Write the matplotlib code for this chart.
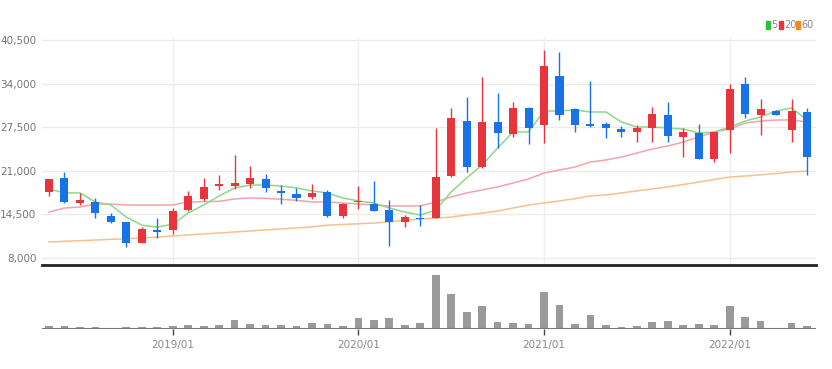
import matplotlib
matplotlib.use("Agg")
import matplotlib.pyplot as plt
from matplotlib.patches import Rectangle
import numpy as np

plt.rcParams['font.family'] = ['DejaVu Sans']

# ---- data (monthly, 2018/05 .. 2022/06) ----
months = [f"{2018 + (4 + i) // 12}/{(4 + i) % 12 + 1:02d}" for i in range(50)]
opens = [17850, 19925, 16200, 16400, 14250, 13350, 10250, 12150, 12150, 15150,
         16800, 18750, 18800, 19050, 19775, 17950, 17550, 17100, 17850, 14250,
         16350, 16050, 15150, 13350, 13950, 13950, 20200, 28420, 21560, 28270,
         26480, 30360, 27830, 35130, 30210, 27980, 27980, 27230, 26780, 27380,
         29320, 26040, 26630, 22760, 27080, 33940, 29320, 29920, 27080, 29770]
highs = [19800, 20820, 17700, 16950, 14700, 13400, 12600, 13950, 15450, 18000,
         19900, 20400, 23350, 21700, 20520, 18880, 18450, 19030, 18150, 16200,
         18750, 19480, 16650, 14400, 15900, 27380, 30360, 32000, 34980, 32600,
         31260, 30500, 39010, 38710, 30360, 34390, 28270, 27680, 27830, 30510,
         31260, 27380, 27980, 26780, 33940, 34980, 31710, 30000, 31710, 30360]
lows = [17300, 16200, 15900, 13950, 13200, 9650, 10250, 10950, 11550, 15000,
        16500, 18150, 18300, 18400, 17850, 16050, 16500, 16800, 14100, 13950,
        15300, 15000, 9800, 12600, 12750, 13950, 20070, 20820, 21400, 24400,
        26040, 25000, 25140, 28570, 26780, 27530, 25880, 26040, 25290, 25290,
        25290, 23050, 22760, 22310, 23650, 28870, 26330, 29320, 25290, 20370]
closes = [19775, 16350, 16650, 14700, 13350, 10250, 12300, 11850, 15000, 17250,
          18600, 19050, 19200, 19925, 18450, 17700, 16950, 17700, 14250, 16050,
          16500, 15000, 13350, 14100, 13800, 20070, 28870, 21560, 28270, 26630,
          30360, 27380, 36620, 29320, 27830, 27680, 27380, 26780, 27380, 29470,
          26190, 26780, 22760, 26780, 33190, 29470, 30210, 29320, 29920, 23050]
ma5 = [18300, 17700, 17700, 16350, 15900, 14100, 12900, 12600, 13050, 14700,
       15900, 17250, 18450, 18880, 18880, 18730, 18450, 18000, 17700, 16950,
       16500, 16200, 15450, 14850, 14400, 15150, 17850, 19930, 21860, 24400,
       26780, 26780, 29920, 29920, 30060, 29770, 29770, 28270, 27530, 27530,
       27380, 27230, 26630, 26780, 27530, 28420, 29020, 29920, 30360, 28570]
ma20 = [14850, 15450, 15600, 16050, 16050, 15900, 15900, 15900, 15900, 16350,
        16400, 16450, 16800, 16950, 16900, 16750, 16600, 16350, 16350, 16200,
        16050, 15900, 15750, 15750, 15750, 16350, 17100, 17700, 18150, 18600,
        19180, 19775, 20670, 21120, 21560, 22310, 22610, 23050, 23650, 24250,
        24700, 25290, 26040, 26780, 27230, 28120, 28420, 28570, 28570, 28270]
ma60 = [10380, 10480, 10580, 10680, 10780, 10880, 10980, 11130, 11280, 11430,
        11580, 11730, 11880, 12030, 12180, 12330, 12480, 12630, 12900, 13000,
        13100, 13210, 13400, 13600, 13810, 13950, 14100, 14400, 14700, 15000,
        15450, 15900, 16200, 16500, 16850, 17250, 17400, 17700, 18000, 18300,
        18600, 18950, 19330, 19700, 20070, 20220, 20400, 20600, 20820, 20970]
volume = [27, 27, 23, 23, 10, 23, 20, 20, 27, 43,
          27, 40, 93, 47, 40, 40, 27, 57, 47, 27,
          107, 87, 107, 40, 60, 543, 353, 170, 227, 73,
          60, 53, 370, 237, 53, 143, 40, 20, 27, 73,
          77, 40, 53, 40, 227, 123, 77, 10, 60, 27]
ytick_vals = [8000, 14500, 21000, 27500, 34000, 40500]
year_ticks = ["2019/01", "2020/01", "2021/01", "2022/01"]
ma_labels = ["5", "20", "60"]

# ---- styling ----
UP = '#e8343c'
DOWN = '#1874e6'
MA_COLORS = ['#8bd88b', '#f3a3ac', '#f7c08e']
LEG_COLORS = ['#2fbf3a', '#e8343c', '#f08a20']
W, H = 832, 369

fig = plt.figure(figsize=(W / 100, H / 100), dpi=100)
fig.patch.set_facecolor('white')


def rect(l, t, r, b):
    return [l / W, 1 - b / H, (r - l) / W, (b - t) / H]


ax = fig.add_axes(rect(42, 38, 816, 264))
vax = fig.add_axes(rect(42, 265, 816, 329), sharex=ax)

x = np.arange(len(opens))
o = np.array(opens); c = np.array(closes); h = np.array(highs); l = np.array(lows)
colors = [UP if ci >= oi else DOWN for oi, ci in zip(o, c)]

# MA lines
for vals, col in zip([ma60, ma20, ma5], [MA_COLORS[2], MA_COLORS[1], MA_COLORS[0]]):
    ax.plot(x, vals, color=col, lw=1.1, zorder=2)

# wicks and bodies
ax.vlines(x, l, h, colors=colors, lw=1.0, zorder=3)
bottoms = np.minimum(o, c)
heights = np.maximum(np.abs(c - o), 160)
ax.bar(x, heights, bottom=bottoms, width=0.52, color=colors, zorder=4, linewidth=0)

# axes limits
def val(ypix):
    return 40500 - (ypix - 40) * (32500 / 218)

ax.set_ylim(val(264), val(38))
ax.set_xlim(-0.45, 49.58)
ax.set_yticks(ytick_vals)
ax.set_yticklabels([f"{v:,}" for v in ytick_vals])
ax.tick_params(axis='y', length=0, pad=4, labelsize=7.5, labelcolor='#777777')
ax.tick_params(axis='x', length=0, labelbottom=False)
ax.grid(axis='y', color='#ebebeb', lw=1)
ax.set_axisbelow(True)
for s in ax.spines.values():
    s.set_visible(False)
tick_pos = [months.index(t) for t in year_ticks]
for tp in tick_pos:
    ax.axvline(tp, color='#eeeeee', lw=1, zorder=0)

# volume
vax.bar(x, volume, width=0.5, color='#9a9a9a', linewidth=0, zorder=2)
vax.axhline(0, color='#7a7a7a', lw=1.5, zorder=3)
vax.set_ylim(0, max(volume) * 64 / 54.3)
vax.set_yticks([])
for k, s in vax.spines.items():
    s.set_visible(k == 'top')
vax.spines['top'].set_color('#222222')
vax.spines['top'].set_linewidth(2)
vax.set_xticks(tick_pos)
vax.set_xticklabels(year_ticks)
vax.tick_params(axis='x', length=4, width=1, color='#444444', pad=4,
                labelsize=7.5, labelcolor='#888888')

# legend (top right)
lx = [766, 779, 796]
tx = [771, 784, 801]
for xx, txx, col, lab in zip(lx, tx, LEG_COLORS, ma_labels):
    fig.patches.append(Rectangle((xx / W, 1 - 29 / H), 4 / W, 8 / H,
                                 transform=fig.transFigure, color=col, figure=fig))
    fig.text(txx / W, 1 - 25.5 / H, lab, fontsize=7, color='#888888', va='center', ha='left')

fig.savefig('out.png', dpi=100, facecolor='white')
